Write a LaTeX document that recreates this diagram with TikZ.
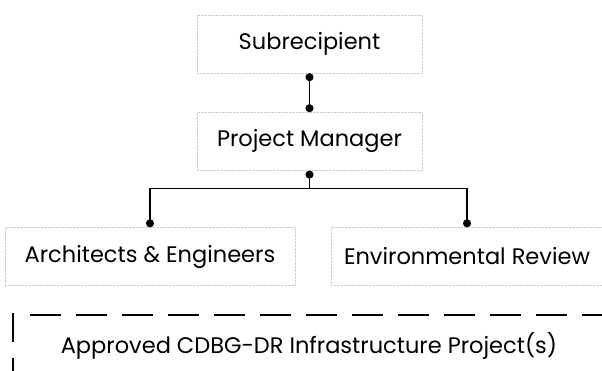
\documentclass[tikz,border=0pt]{standalone}
\usepackage{fontspec}
\setmainfont{Poppins}
\usetikzlibrary{arrows.meta, positioning}

\begin{document}
\begin{tikzpicture}[x=1pt,y=-1pt,>={Circle[length=8pt]},line width=1.5pt,node distance=39pt]
	\tikzset{box/.style={draw=gray!40,densely dotted,thin,minimum height=58pt,inner sep=0pt,font=\fontsize{22.5}{27}\selectfont}}
	\tikzset{projline/.style={line width=2.6pt,dash pattern=on 31pt off 15pt}}
	\useasboundingbox (0,0) rectangle (602,371);
	\node[box,minimum width=225pt] (sub) at (309.5,44) {Subrecipient};
	\node[box,minimum width=225pt] (pm) [below=of sub] {Project Manager};
	\node[box,minimum width=290pt] (arch) at (150,256.5) {Architects \& Engineers};
	\node[box,minimum width=272pt] (env) at (467,256.5) {Environmental Review};
	\coordinate[below=18pt of pm] (split);
	\node[font=\fontsize{22.5}{27}\selectfont] (proj) at (309,346) {Approved CDBG-DR Infrastructure Project(s)};
	\draw[<->] (sub.south) -- (pm.north);
	\draw[{Circle[length=8pt]}-] (pm.south) -- (split);
	\draw[->] (split) -| (arch.north);
	\draw[->] (split) -| (env.north);
	% project box border
	\draw[projline] (30,315) -- (602,315);
	\draw[line width=2.6pt,dash pattern=on 29pt off 16pt] (13,313) -- (13,371);
\end{tikzpicture}
\end{document}
